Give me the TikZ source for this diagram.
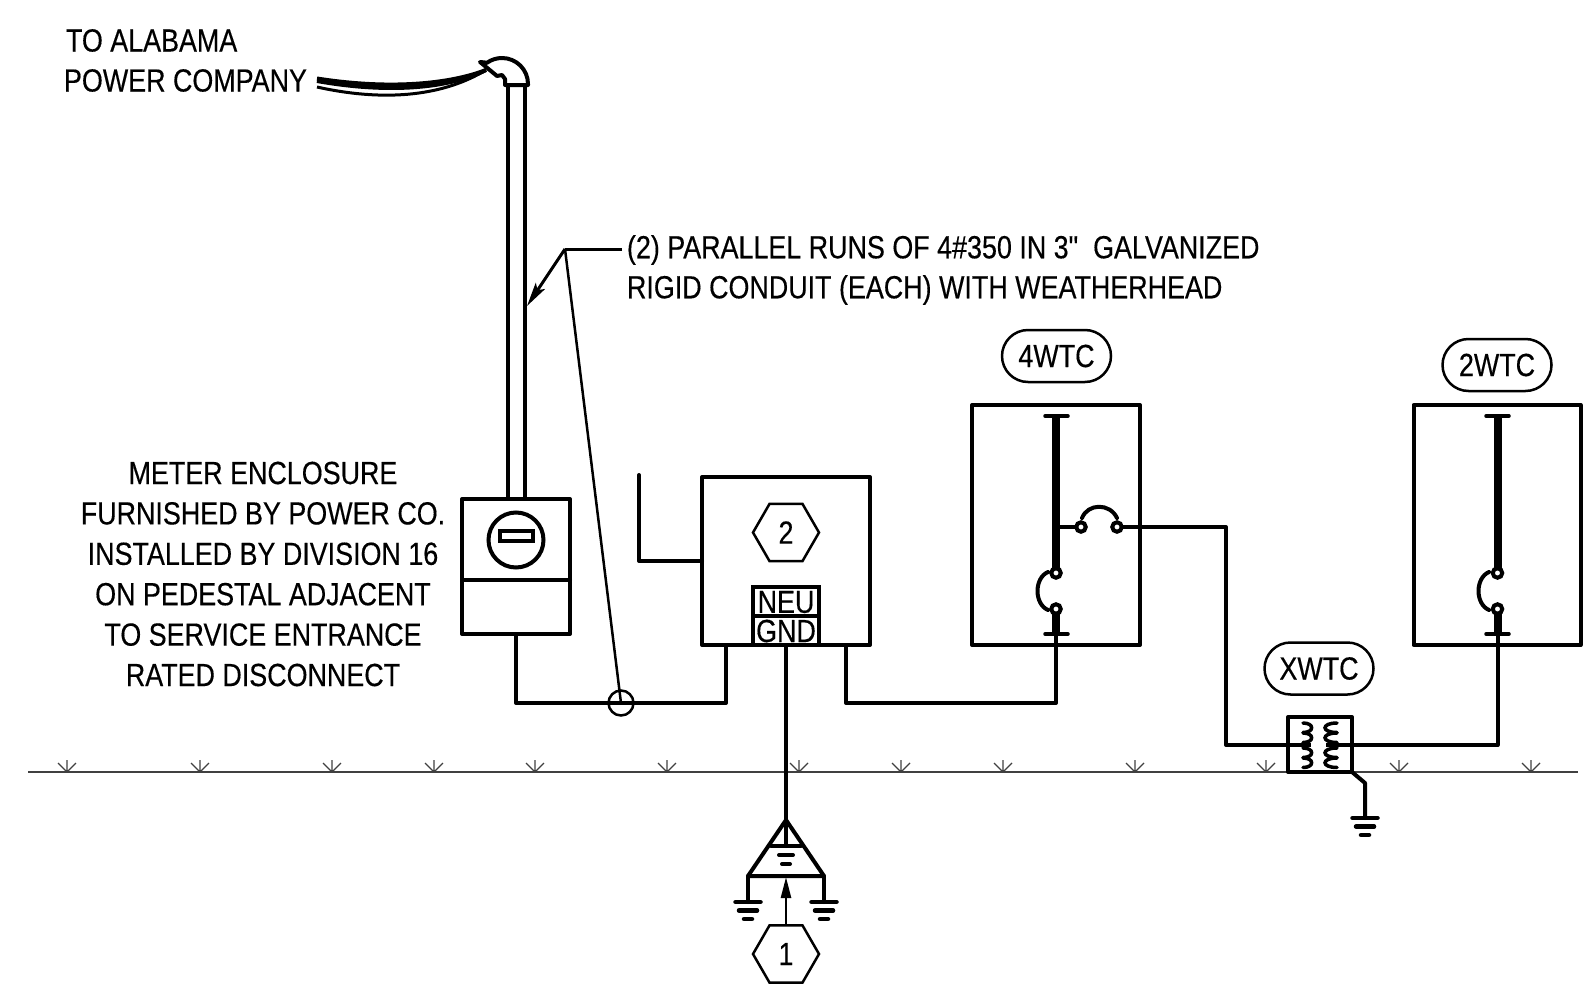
\documentclass[tikz,border=0pt]{standalone}
\usepackage{fontspec}
\setmainfont[FakeStretch=0.84,FakeBold=0.35]{Liberation Sans}
\newfontfamily\plainq[FakeStretch=0.84,FakeBold=0.35]{Liberation Sans}
\usetikzlibrary{shapes.geometric,shapes.misc,arrows.meta,calc}
\tikzset{
  x=1pt,y=-1pt,
  every node/.style={inner sep=0pt,outer sep=0pt},
  wire/.style={line width=4pt,line join=round,line cap=round},
  thin wire/.style={line width=2.5pt,line join=round},
  bus/.style={line width=8pt},
  capbar/.style={line width=3.5pt,line cap=round},
  encl/.style={draw,line width=4pt,rectangle,line join=round},
  hexa/.style={draw,line width=2.5pt,regular polygon,regular polygon sides=6,minimum size=66pt,font=\fontsize{32}{36}\selectfont},
  pill/.style={draw,line width=2.5pt,rounded rectangle,minimum width=109pt,minimum height=52pt,font=\fontsize{32}{36}\selectfont},
  label/.style={font=\fontsize{32}{40.4}\selectfont},
  term/.style={draw,circle,fill=white,line width=4pt,minimum size=9.5pt},
  tick/.style={line width=1.3pt,draw=black!75},
}
\newcommand{\gndsym}[1]{%
  \draw[wire,line width=4.5pt] ($(#1)+(-12.5,0)$) -- ($(#1)+(12.5,0)$);
  \draw[wire,line width=4.5pt] ($(#1)+(-9,8.5)$) -- ($(#1)+(9,8.5)$);
  \draw[wire,line width=4.5pt] ($(#1)+(-4,17)$) -- ($(#1)+(4,17)$);
}
\newcommand{\turfmark}[1]{%
  \draw[tick] (#1,772) -- (#1,760) (#1-9,763) -- (#1,772) -- (#1+9,763);
}
\begin{document}
\begin{tikzpicture}
\useasboundingbox (0,0) rectangle (1590,990);
% ground line
\coordinate (gl) at (28,772); \coordinate (gr) at (1578,772);
\draw[line width=1.5pt,draw=black!75] (gl) -- (gr);
\foreach \t in {67,200,332,434,535,667,799,901,1003,1135,1266,1399,1531}{\turfmark{\t}}

% texts
\node[label,anchor=west] (t1) at (66,40.5) {TO ALABAMA};
\node[label,anchor=west] (t2) at (64,80.5) {POWER COMPANY};
\node[label,anchor=west] (t3) at (627,250) {(2) PARALLEL RUNS OF 4\#350 IN 3{\plainq "}\ \ GALVANIZED};
\node[label,anchor=west] (t4) at (627,290) {RIGID CONDUIT (EACH) WITH WEATHERHEAD};
\node[label,align=center] (t5) at (263,574) {METER ENCLOSURE\\FURNISHED BY POWER CO.\\INSTALLED BY DIVISION 16\\ON PEDESTAL ADJACENT\\TO SERVICE ENTRANCE\\RATED DISCONNECT};

% weatherhead wires
\coordinate (wh) at (486,70);
\coordinate (w1) at (317,78.5); \coordinate (w2) at (317,81); \coordinate (w3) at (317,87);
\draw[line width=4pt] (w1) .. controls (390,90) and (450,84) .. (wh);
\draw[line width=4pt] (w2) .. controls (390,94) and (450,88) .. (wh);
\draw[line width=3pt] (w3) .. controls (380,101) and (440,98) .. (wh);
% weatherhead
\draw[wire,fill=white] (505,85) -- (528,85) -- (528,84) arc[start angle=0,end angle=-125,radius=26] -- (480,62) -- (497,76) -- (502,75) -- (505,79) -- cycle;

% conduit, meter
\node[encl,minimum width=108pt,minimum height=135pt] (meter) at (516,566.5) {};
\coordinate (cl) at (508,85); \coordinate (cr) at (525,85);
\draw[wire,line cap=butt] (cl) -- (cl |- meter.north);
\draw[wire,line cap=butt] (cr) -- (cr |- meter.north);
\draw[wire] (meter.west |- 0,580) -- (meter.east |- 0,580);
\node[draw,circle,line width=4pt,minimum size=55pt] (dial) at (516,540) {};
\node[draw,rectangle,line width=4pt,minimum width=33pt,minimum height=10pt] (win) at (516,536) {};

% disconnect
\node[encl,minimum width=168pt,minimum height=168pt] (disc) at (786,561) {};
\coordinate (stub) at (639,475);
\draw[wire] (stub) |- (disc.west |- 0,561);
\node[hexa] (h2) at (786,532.5) {2};
\node[draw,rectangle,line width=3.5pt,minimum width=66pt,minimum height=29pt] (neu) at (786,601.5) {};
\node[draw,rectangle,line width=3.5pt,minimum width=66pt,minimum height=29pt] (gnd) at (786,630.5) {};
\node[font=\fontsize{32}{36}\selectfont] (neut) at (786,602) {NEU};
\node[font=\fontsize{32}{36}\selectfont] (gndt) at (786,631) {GND};

% meter to disconnect
\node[draw,circle,line width=2.5pt,minimum size=25pt] (tag) at (621,703) {};
\coordinate (dl) at (726,645);
\draw[wire] (meter.south) |- (dl |- 0,703) -- (dl);
% leader
\coordinate (ldr) at (565,249);
\coordinate (ldre) at (622,249);
\draw[line width=3pt,line join=round] (ldre) -- (ldr);
\draw[thin wire] (ldr) -- (tag.center);
\coordinate (ldrt) at (527,306);
\draw[line width=3pt,-{Stealth[length=24pt,width=11pt,inset=5pt]}] (ldr) -- (ldrt);

% switch 4WTC
\node[encl,minimum width=168pt,minimum height=240pt] (sw4) at (1056,525) {};
\coordinate (a0) at (1056,416); \coordinate (a5) at (1056,634);
\coordinate (a1c) at (1056,573); \coordinate (a2c) at (1056,609);
\draw[bus] (a0) -- (a1c);
\draw[bus] (a2c) -- (a5);
\draw[capbar] (1045,416) -- (1068,416);
\draw[capbar] (1045,634) -- (1068,634);
\draw[wire] (a0 |- 0,527) -- (1081,527);
\draw[wire,line cap=round] (1048,572) .. controls (1034,578) and (1034,604) .. (1048,610);
\draw[wire,line cap=round] (1082,518) .. controls (1088,503) and (1110,503) .. (1117,518);
\node[term] (a1) at (a1c) {};
\node[term] (a2) at (a2c) {};
\node[term] (a3) at (1081,527) {};
\node[term] (a4) at (1117,527) {};

% switch 2WTC
\node[encl,minimum width=167pt,minimum height=240pt] (sw2) at (1497,525) {};
\coordinate (b0) at (1497.5,416); \coordinate (b5) at (1497.5,634);
\coordinate (b1c) at (1497.5,573); \coordinate (b2c) at (1497.5,609);
\draw[bus] (b0) -- (b1c);
\draw[bus] (b2c) -- (b5);
\draw[capbar] (1486,416) -- (1509,416);
\draw[capbar] (1486,634) -- (1509,634);
\draw[wire,line cap=round] (1489,572) .. controls (1475,578) and (1475,604) .. (1489,610);
\node[term] (b1) at (b1c) {};
\node[term] (b2) at (b2c) {};

% transformer
\node[encl,minimum width=64pt,minimum height=55pt,fill=white] (xf) at (1320,744.5) {};
\coordinate (xl) at (1311,745); \coordinate (xr) at (1326,745);
\foreach \yy in {723,733,748,758}{
  \draw[line width=3.5pt,line cap=round] (1303,\yy) .. controls (1314.5,\yy) and (1314.5,\yy+9.5) .. (1303,\yy+9.5);
  \draw[line width=3.5pt,line cap=round] (1337,\yy) .. controls (1321,\yy) and (1321,\yy+9.5) .. (1337,\yy+9.5);
}
% wiring
\draw[wire,line cap=butt] (a4.east) -- (1226,527) |- (xl);
\draw[wire,line cap=butt] (xr) -| (b5);
\draw[wire] (a5) -- (1056,703) -- (846,703) -- (846,645);
\coordinate (xg) at (1365,818);
\draw[wire] (xf.south east) -- (1365,783) -- (xg);
\gndsym{xg}

% grounding
\coordinate (ap) at (786,820);
\coordinate (bl) at (748,876); \coordinate (br) at (824,876);
\draw[wire] (gnd.south) -- (ap);
\draw[wire] (ap) -- (bl) -- (br) -- cycle;
\coordinate (mg) at (786,846);
\draw[wire] (ap) -- (mg);
\draw[wire] (771,846) -- (801,846);
\draw[wire] (779,855) -- (793,855);
\draw[wire] (782,864) -- (790,864);
\coordinate (g1) at (748,902); \coordinate (g2) at (824,902);
\draw[wire] (bl) -- (g1); \draw[wire] (br) -- (g2);
\gndsym{g1}\gndsym{g2}
\node[hexa] (h1) at (786,954) {1};
\draw[line width=2.5pt,-{Stealth[length=21pt,width=10pt,inset=0pt]}] (h1.north) -- (786,877);

% pills
\node[pill] (p4) at (1056.5,356) {4WTC};
\node[pill] (p2) at (1497,365) {2WTC};
\node[pill] (px) at (1319,668.5) {XWTC};
\end{tikzpicture}
\end{document}
